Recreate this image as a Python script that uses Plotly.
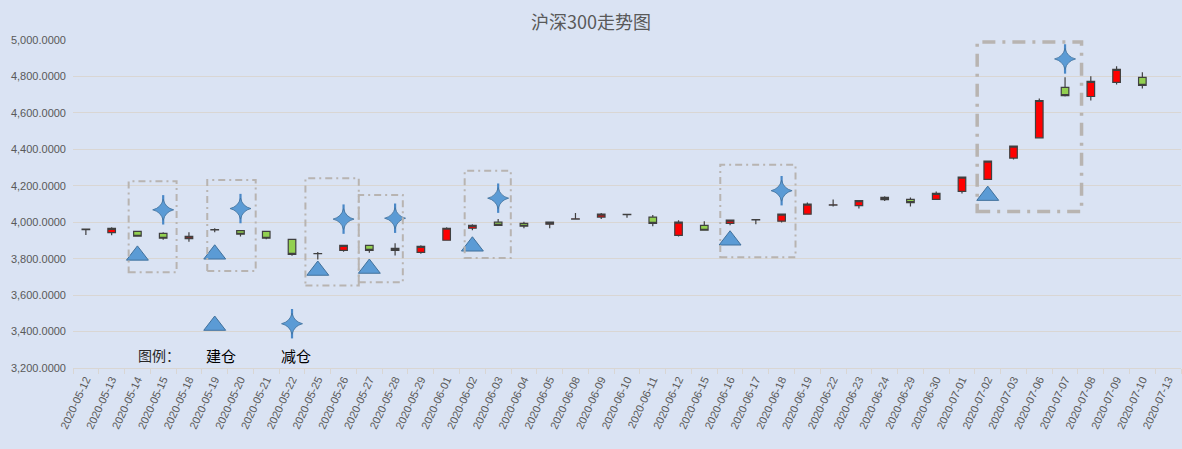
import plotly.graph_objects as go

# 沪深300 daily candles
dates = ["2020-05-12", "2020-05-13", "2020-05-14", "2020-05-15", "2020-05-18", "2020-05-19",
         "2020-05-20", "2020-05-21", "2020-05-22", "2020-05-25", "2020-05-26", "2020-05-27",
         "2020-05-28", "2020-05-29", "2020-06-01", "2020-06-02", "2020-06-03", "2020-06-04",
         "2020-06-05", "2020-06-08", "2020-06-09", "2020-06-10", "2020-06-11", "2020-06-12",
         "2020-06-15", "2020-06-16", "2020-06-17", "2020-06-18", "2020-06-19", "2020-06-22",
         "2020-06-23", "2020-06-24", "2020-06-29", "2020-06-30", "2020-07-01", "2020-07-02",
         "2020-07-03", "2020-07-06", "2020-07-07", "2020-07-08", "2020-07-09", "2020-07-10",
         "2020-07-13"]
open_ = [3962, 3943, 3950, 3939, 3910, 3958, 3954, 3950, 3906, 3827, 3846, 3873, 3846, 3835,
         3901, 3967, 4000, 3994, 3989, 4017, 4028, 4043, 4028, 3928, 3983, 3994, 4013, 4006,
         4044, 4094, 4091, 4124, 4125, 4125, 4169, 4235, 4352, 4463, 4740, 4690, 4767, 4795, None]
high = [3965, 3972, 3951, 3945, 3945, 3967, 3955, 3951, 3907, 3836, 3874, 3874, 3884, 3873,
        3972, 3989, 4017, 4002, 4001, 4050, 4051, 4045, 4039, 4011, 4005, 4012, 4016, 4045,
        4108, 4125, 4120, 4143, 4136, 4169, 4248, 4338, 4419, 4679, 4795, 4801, 4856, 4823, None]
low = [3930, 3929, 3921, 3904, 3893, 3945, 3921, 3906, 3816, 3796, 3838, 3832, 3818, 3827,
       3900, 3956, 3982, 3967, 3967, 4016, 4017, 4024, 3978, 3921, 3955, 3983, 3989, 3998,
       4043, 4086, 4075, 4117, 4086, 4124, 4158, 4233, 4344, 4462, 4690, 4668, 4756, 4734, None]
close = [3959, 3966, 3923, 3912, 3923, 3960, 3934, 3912, 3824, 3828, 3873, 3846, 3857, 3868,
         3967, 3983, 3983, 3978, 4000, 4019, 4044, 4041, 3994, 4000, 3956, 4011, 4015, 4044,
         4099, 4096, 4119, 4136, 4108, 4158, 4247, 4335, 4418, 4668, 4695, 4773, 4839, 4751, None]

# 建仓 (open position) and 减仓 (reduce position) signals
buy_dates = ["2020-05-14", "2020-05-19", "2020-05-25", "2020-05-27", "2020-06-02", "2020-06-16", "2020-07-02"]
buy_vals = [3818, 3824, 3735, 3746, 3868, 3901, 4146]
sell_dates = ["2020-05-15", "2020-05-20", "2020-05-26", "2020-05-28", "2020-06-03", "2020-06-18", "2020-07-07"]
sell_vals = [4068, 4075, 4017, 4022, 4132, 4173, 4896]

# hand-made legend symbols sitting inside the plot
key_dates = ["2020-05-19", "2020-05-22"]
key_vals = [3433, 3443]

y_ticks = [3200, 3400, 3600, 3800, 4000, 4200, 4400, 4600, 4800, 5000]

BG = "#DAE3F3"
GRID = "#D9D6D3"
TXT = "#595959"
BLUE = "#5B9BD5"
EDGE = "#41719C"

fig = go.Figure()

fig.add_trace(go.Candlestick(
    x=dates, open=open_, high=high, low=low, close=close,
    increasing=dict(fillcolor="#FF0000", line=dict(color="#404040", width=1.2)),
    decreasing=dict(fillcolor="#92D050", line=dict(color="#404040", width=1.2)),
    whiskerwidth=0, showlegend=False, hoverinfo="x+y"))

buy_x = buy_dates + key_dates[:1]
buy_y = buy_vals + key_vals[:1]
sell_x = sell_dates + key_dates[1:]
sell_y = sell_vals + key_vals[1:]

fig.add_trace(go.Scatter(
    x=buy_x, y=buy_y, mode="markers", name="建仓",
    marker=dict(symbol="triangle-up", size=19, color=BLUE, line=dict(color=EDGE, width=1)),
    showlegend=False))
# the 减仓 star is taller than wide: a thin vertical spike under a 4-point star
fig.add_trace(go.Scatter(
    x=sell_x, y=sell_y, mode="markers", hoverinfo="skip",
    marker=dict(symbol="line-ns", size=21, line=dict(color="#4A88C7", width=2.2)),
    showlegend=False))
fig.add_trace(go.Scatter(
    x=sell_x, y=sell_y, mode="markers", name="减仓",
    marker=dict(symbol="star-diamond", size=15, color=BLUE, line=dict(color=EDGE, width=0.8)),
    showlegend=False))

# dash-dot boxes round each pair of signals (category index, value)
boxes = [(1.66, 3.52, 3726, 4225), (4.71, 6.59, 3732, 4232), (8.52, 10.59, 3653, 4241),
         (10.59, 12.30, 3671, 4150), (14.70, 16.49, 3803, 4282), (24.62, 27.54, 3808, 4315)]
shapes = []
for x0, x1, y0, y1 in boxes:
    shapes.append(dict(type="rect", xref="x", yref="y", x0=x0, x1=x1, y0=y0, y1=y1,
                       line=dict(color="#B8B4B1", width=2, dash="7px,4px,2px,4px")))
shapes.append(dict(type="rect", xref="x", yref="y", x0=34.59, x1=38.64, y0=4059, y1=4989,
                   line=dict(color="#B8B4B1", width=3.5, dash="13px,7px,3px,7px")))

cjk = "Noto Sans CJK SC"
annotations = [
    dict(x=2.83, y=3271, xref="x", yref="y", text="图例：", showarrow=False,
         font=dict(family=cjk, size=14, color="#262626")),
    dict(x=5.24, y=3266, xref="x", yref="y", text="建仓", showarrow=False,
         font=dict(family=cjk, size=15, color="#000000")),
    dict(x=8.15, y=3266, xref="x", yref="y", text="减仓", showarrow=False,
         font=dict(family=cjk, size=15, color="#000000")),
]

fig.update_layout(
    width=1182, height=449,
    paper_bgcolor=BG, plot_bgcolor=BG,
    margin=dict(l=73, r=1, t=40, b=81),
    title=dict(text="沪深300走势图", x=0.5, xanchor="center", y=0.949, yanchor="middle",
               xref="container", yref="container",
               font=dict(family=cjk, size=18, color=TXT)),
    boxgap=0.58,
    shapes=shapes,
    annotations=annotations,
    hovermode="closest",
)

fig.update_xaxes(
    type="category", categoryorder="array", categoryarray=dates, range=[-0.5, 42.5],
    rangeslider=dict(visible=False), showgrid=False,
    showline=True, linecolor=GRID, linewidth=1,
    ticks="outside", tickson="boundaries", ticklen=5, tickcolor=GRID,
    tickangle=-65, tickfont=dict(family="Liberation Sans", size=11, color=TXT))

fig.update_yaxes(
    range=[3200, 5000], tickvals=y_ticks, tickformat=",.4f",
    showgrid=True, gridcolor=GRID, gridwidth=1, zeroline=False, showline=False,
    ticklabelstandoff=6,
    tickfont=dict(family="Liberation Sans", size=11, color=TXT))

# drop the page's default body margin so the figure sits at the window corner
fig.write_html("out.html", config={"displayModeBar": False},
               post_script="document.body.style.margin='0';document.body.style.background='%s';" % BG)
